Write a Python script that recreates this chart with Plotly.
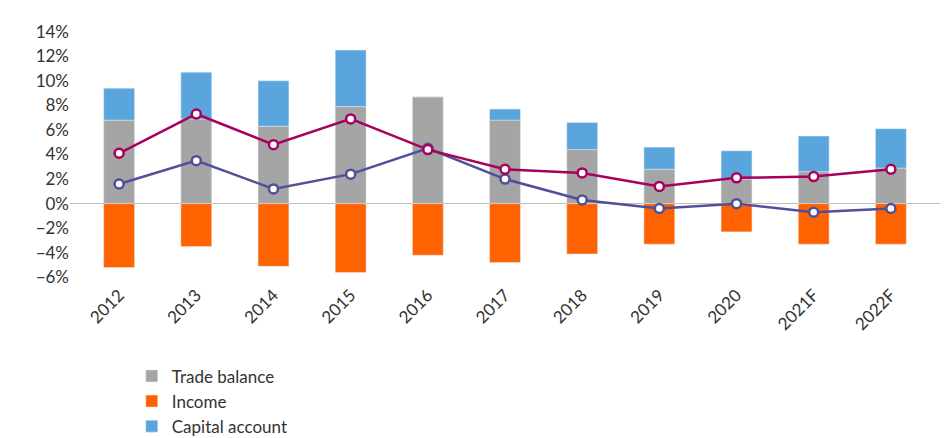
import plotly.graph_objects as go

years = ["2012", "2013", "2014", "2015", "2016", "2017", "2018", "2019", "2020", "2021F", "2022F"]
trade_balance = [6.8, 6.9, 6.3, 7.9, 8.7, 6.8, 4.4, 2.8, 2.0, 2.6, 2.9]
capital_account = [2.6, 3.8, 3.7, 4.6, 0.0, 0.9, 2.2, 1.8, 2.3, 2.9, 3.2]
income = [-5.2, -3.5, -5.1, -5.6, -4.2, -4.8, -4.1, -3.3, -2.3, -3.3, -3.3]
current_account = [1.6, 3.5, 1.2, 2.4, 4.5, 2.0, 0.3, -0.4, 0.0, -0.7, -0.4]
net_financing = [4.1, 7.3, 4.8, 6.9, 4.4, 2.8, 2.5, 1.4, 2.1, 2.2, 2.8]

fig = go.Figure()
fig.add_trace(go.Bar(x=years, y=trade_balance, name="Trade balance", marker_color="#a5a5a5", width=0.4))
fig.add_trace(go.Bar(x=years, y=income, name="Income", marker_color="#ff6200", width=0.4))
fig.add_trace(go.Bar(x=years, y=capital_account, name="Capital account", marker_color="#5aa5dc", width=0.4))
fig.add_trace(go.Scatter(x=years, y=current_account, name="Current account", mode="lines+markers",
                         line=dict(color="#4f4f9a", width=2.5),
                         marker=dict(size=9, color="white", line=dict(color="#4f4f9a", width=2.5))))
fig.add_trace(go.Scatter(x=years, y=net_financing, name="Net ext financing capacity", mode="lines+markers",
                         line=dict(color="#a8005f", width=2.5),
                         marker=dict(size=9, color="white", line=dict(color="#a8005f", width=2.5))))

fig.update_layout(
    width=952, height=438, barmode="relative",
    plot_bgcolor="white", paper_bgcolor="white",
    font=dict(family="Lato, sans-serif", size=17, color="#333333"),
    margin=dict(l=62, r=20, t=20, b=165),
    legend=dict(orientation="h", xref="container", yref="container", x=0.13, y=0.2,
                xanchor="left", yanchor="top", entrywidth=405, tracegroupgap=0,
                font=dict(size=17)),
)
fig.update_xaxes(tickangle=-45, showline=False, ticks="")
fig.update_yaxes(range=[-6.3, 14.3], dtick=2, ticksuffix="%", showgrid=False,
                 zeroline=True, zerolinecolor="#bfbfbf", zerolinewidth=1)

fig.write_html("out.html")
